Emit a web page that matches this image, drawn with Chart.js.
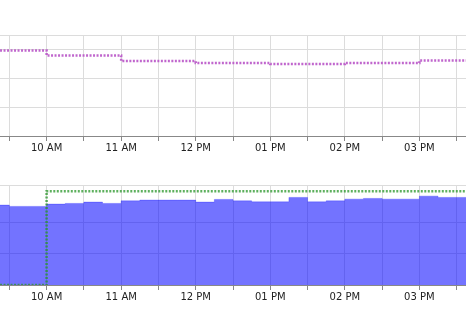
<!DOCTYPE html>
<html>
<head>
<meta charset="utf-8">
<script src="https://cdn.jsdelivr.net/npm/chart.js@4/dist/chart.umd.min.js"></script>
<style>
  html, body { margin: 0; padding: 0; background: #fff; }
  body { width: 466px; height: 311px; position: relative; overflow: hidden; }
  .box { position: absolute; left: 0; width: 466px; }
  #b1 { top: 0; height: 155px; }
  #b2 { top: 160px; height: 144px; }
</style>
</head>
<body>
<div class="box" id="b1"><canvas id="c1"></canvas></div>
<div class="box" id="b2"><canvas id="c2"></canvas></div>
<script>
// Hours of day (decimal) for each step start
const hourlyTimes = [9, 10, 11, 12, 13, 14, 15, 16];
const topSeries   = [2.965, 2.792, 2.595, 2.526, 2.491, 2.526, 2.619, 2.619];

const quarterTimes = [9.25, 9.5, 9.75, 10, 10.25, 10.5, 10.75, 11, 11.25, 11.5, 11.75,
                      12, 12.25, 12.5, 12.75, 13, 13.25, 13.5, 13.75, 14, 14.25, 14.5, 14.75,
                      15, 15.25, 15.5, 15.75];
const areaSeries   = [2.557, 2.516, 2.516, 2.589, 2.611, 2.653, 2.611, 2.694, 2.717, 2.717, 2.717,
                      2.653, 2.739, 2.694, 2.662, 2.662, 2.803, 2.662, 2.694, 2.748, 2.771, 2.748, 2.748,
                      2.844, 2.803, 2.803, 2.803];

const limitTimes  = [9, 10, 16];
const limitSeries = [0, 3, 3];

const xMin = 9.375, xMax = 15.625;

function hourLabel(v) {
  if (Math.abs(v - Math.round(v)) > 1e-6) return '';
  const h = Math.round(v);
  const suffix = h >= 12 ? 'PM' : 'AM';
  let h12 = h % 12; if (h12 === 0) h12 = 12;
  return String(h12).padStart(2, '0') + ' ' + suffix;
}

function xScale() {
  return {
    type: 'linear', min: xMin, max: xMax,
    grid: { color: '#dcdcdc', tickColor: '#888', tickLength: 5, lineWidth: 1 },
    border: { color: '#888', width: 1 },
    ticks: { stepSize: 0.5, includeBounds: false, autoSkip: false, maxRotation: 0,
             padding: 1, color: '#222', font: { family: 'DejaVu Sans', size: 10 },
             callback: (v) => hourLabel(v) }
  };
}
function yScale(max) {
  return {
    type: 'linear', min: 0, max: max,
    grid: { color: '#dcdcdc', drawTicks: false },
    border: { display: false },
    ticks: { display: false, stepSize: 1 }
  };
}
const common = {
  responsive: true, maintainAspectRatio: false, animation: false,
  plugins: { legend: { display: false }, tooltip: { enabled: false } },
  elements: { point: { radius: 0 } }
};

new Chart(document.getElementById('c1'), {
  type: 'line',
  data: { datasets: [{
    data: hourlyTimes.map((t, i) => ({ x: t, y: topSeries[i] })),
    stepped: true, borderColor: 'rgba(185,85,200,0.9)', borderWidth: 2.5, borderDash: [2, 1.5],
    fill: false
  }]},
  options: Object.assign({}, common, {
    layout: { padding: { top: 35, left: 0, right: 0, bottom: 0 } },
    scales: { x: xScale(), y: yScale(3.5) }
  })
});

new Chart(document.getElementById('c2'), {
  type: 'line',
  data: { datasets: [
    {
      data: limitTimes.map((t, i) => ({ x: t, y: limitSeries[i] })),
      stepped: true, borderColor: 'rgba(40,150,40,0.75)', borderWidth: 2.5, borderDash: [2, 1.5],
      fill: false, order: 0
    },
    {
      data: quarterTimes.map((t, i) => ({ x: t, y: areaSeries[i] })),
      stepped: true, borderColor: 'rgba(0,0,255,0.25)', borderWidth: 1,
      backgroundColor: 'rgba(0,0,255,0.55)', fill: 'origin', order: 1
    }
  ]},
  options: Object.assign({}, common, {
    layout: { padding: { top: 25, left: 0, right: 0, bottom: 0 } },
    scales: { x: xScale(), y: yScale(3.2) }
  })
});
</script>
</body>
</html>
